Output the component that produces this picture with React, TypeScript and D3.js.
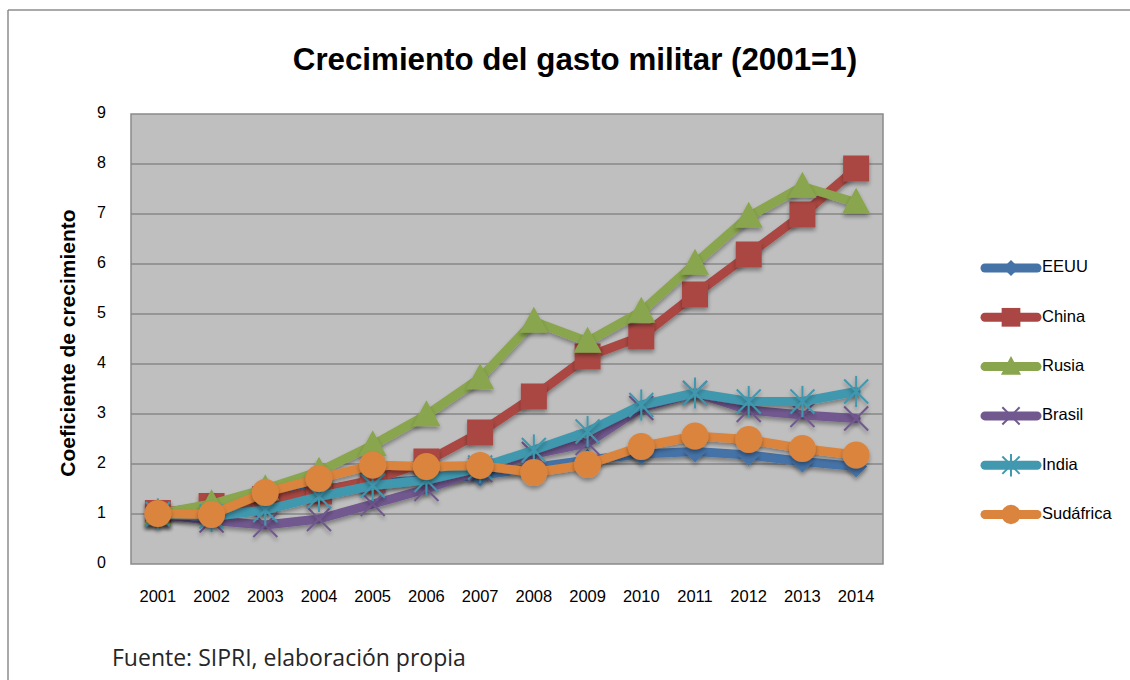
import React from "react";
import * as d3 from "d3";

const years = ["2001","2002","2003","2004","2005","2006","2007","2008","2009","2010","2011","2012","2013","2014"];
const yTicks = [0,1,2,3,4,5,6,7,8,9];

const eeuu = [1.0, 1.14, 1.33, 1.49, 1.61, 1.69, 1.77, 1.93, 2.08, 2.2, 2.25, 2.18, 2.05, 1.95];
const china = [1.02, 1.16, 1.3, 1.45, 1.68, 2.05, 2.63, 3.35, 4.15, 4.55, 5.39, 6.19, 6.99, 7.91];
const rusia = [1.0, 1.2, 1.5, 1.85, 2.38, 2.98, 3.72, 4.85, 4.45, 5.05, 6.01, 6.95, 7.55, 7.23];
const brasil = [1.0, 0.87, 0.78, 0.9, 1.2, 1.5, 1.88, 2.2, 2.42, 3.12, 3.42, 3.08, 2.98, 2.91];
const india = [1.0, 0.95, 1.08, 1.35, 1.57, 1.68, 1.93, 2.28, 2.65, 3.18, 3.42, 3.25, 3.25, 3.45];
const sudafrica = [1.01, 0.99, 1.43, 1.71, 1.98, 1.95, 1.97, 1.83, 1.99, 2.35, 2.56, 2.49, 2.31, 2.18];

const seriesNames = ["EEUU","China","Rusia","Brasil","India","Sudáfrica"];
const seriesValues = [eeuu, china, rusia, brasil, india, sudafrica];
const seriesColors = ["#4572A7","#AA4643","#89A54E","#71588F","#4198AF","#DB843D"];
const seriesMarkers = ["diamond","square","triangle","x","star","circle"];

const W = 1130, H = 680;
const plot = { left: 131, right: 883, top: 114, bottom: 564 };
const FONT = "Liberation Sans, Arial, sans-serif";

function Marker({ kind, color, x, y, scale = 1 }: { kind: string; color: string; x: number; y: number; scale?: number }) {
  const s = scale;
  if (kind === "diamond") {
    const r = 11 * s;
    return <path d={`M${x},${y - r}L${x + r},${y}L${x},${y + r}L${x - r},${y}Z`} fill={color} />;
  }
  if (kind === "square") {
    const r = 13 * s;
    return <rect x={x - r} y={y - r} width={2 * r} height={2 * r} fill={color} />;
  }
  if (kind === "triangle") {
    const r = 14 * s;
    return <path d={`M${x},${y - r * 1.05}L${x + r},${y + r * 0.8}L${x - r},${y + r * 0.8}Z`} fill={color} />;
  }
  if (kind === "x") {
    const r = 12 * s;
    return (
      <g stroke={color} strokeWidth={2}>
        <line x1={x - r} y1={y - r} x2={x + r} y2={y + r} />
        <line x1={x - r} y1={y + r} x2={x + r} y2={y - r} />
      </g>
    );
  }
  if (kind === "star") {
    const r = 12 * s;
    return (
      <g stroke={color} strokeWidth={2}>
        <line x1={x - r} y1={y - r} x2={x + r} y2={y + r} />
        <line x1={x - r} y1={y + r} x2={x + r} y2={y - r} />
        <line x1={x} y1={y - r * 1.3} x2={x} y2={y + r * 1.3} />
      </g>
    );
  }
  const r = 13.5 * s;
  return <circle cx={x} cy={y} r={r} fill={color} />;
}

export default function App() {
  const x = d3.scaleBand<string>().domain(years).range([plot.left, plot.right]);
  const y = d3.scaleLinear().domain([0, 9]).range([plot.bottom, plot.top]);
  const cx = (yr: string) => (x(yr) as number) + x.bandwidth() / 2;
  const line = d3.line<number>().x((_, i) => cx(years[i])).y((v) => y(v));

  const legendY0 = 268, legendStep = 49.3;

  return (
    <svg width={W} height={H} style={{ position: "absolute", left: 0, top: 0, display: "block", background: "#fff" }}>
      <defs>
        <filter id="sh" x="-50%" y="-50%" width="200%" height="200%">
          <feGaussianBlur in="SourceAlpha" stdDeviation="2" />
          <feOffset dx="0" dy="3" result="ob" />
          <feComponentTransfer><feFuncA type="linear" slope="0.35" /></feComponentTransfer>
          <feMerge><feMergeNode /><feMergeNode in="SourceGraphic" /></feMerge>
        </filter>
      </defs>
      {/* outer frame */}
      <line x1={8} y1={10} x2={W} y2={10} stroke="#8c8c8c" strokeWidth={1.5} />
      <line x1={8} y1={10} x2={8} y2={H} stroke="#8c8c8c" strokeWidth={1.5} />

      <text x={575} y={62} textAnchor="middle" dominantBaseline="middle" fontFamily={FONT} fontWeight="bold" fontSize={31.3} fill="#000">
        Crecimiento del gasto militar (2001=1)
      </text>

      {/* plot area */}
      <rect x={plot.left} y={plot.top} width={plot.right - plot.left} height={plot.bottom - plot.top} fill="#BFBFBF" stroke="#8a8a8a" strokeWidth={1.5} />
      {yTicks.map((t) => (
        <g key={t}>
          {t > 0 && t < 9 && <line x1={plot.left} x2={plot.right} y1={y(t)} y2={y(t)} stroke="#878787" strokeWidth={1.5} />}
          <text x={106} y={y(t)} textAnchor="end" dominantBaseline="middle" fontFamily={FONT} fontSize={16} fill="#000">{t}</text>
        </g>
      ))}
      {years.map((yr) => (
        <text key={yr} x={cx(yr)} y={598} textAnchor="middle" dominantBaseline="middle" fontFamily={FONT} fontSize={16.5} fill="#000">{yr}</text>
      ))}
      <text transform={`translate(69,343) rotate(-90)`} textAnchor="middle" dominantBaseline="middle" fontFamily={FONT} fontWeight="bold" fontSize={21} fill="#000">
        Coeficiente de crecimiento
      </text>

      {/* series */}
      {seriesValues.map((vals, si) => (
        <g key={seriesNames[si]}>
          <path d={line(vals) as string} fill="none" stroke={seriesColors[si]} strokeWidth={9} strokeLinejoin="round" strokeLinecap="round" filter="url(#sh)" />
          <g filter="url(#sh)">
            {vals.map((v, i) => (
              <Marker key={i} kind={seriesMarkers[si]} color={seriesColors[si]} x={cx(years[i])} y={y(v)} />
            ))}
          </g>
        </g>
      ))}

      {/* legend */}
      {seriesNames.map((n, i) => {
        const ly = legendY0 + i * legendStep;
        return (
          <g key={n}>
            <line x1={985} x2={1037} y1={ly} y2={ly} stroke={seriesColors[i]} strokeWidth={9} strokeLinecap="round" />
            <Marker kind={seriesMarkers[i]} color={seriesColors[i]} x={1011} y={ly} scale={0.72} />
            <text x={1042} y={ly} dominantBaseline="middle" fontFamily={FONT} fontSize={16.5} fill="#000">{n}</text>
          </g>
        );
      })}

      <text x={112} y={660} dominantBaseline="middle" fontFamily="Open Sans, Noto Sans, sans-serif" fontSize={23} fill="#262626">
        Fuente: SIPRI, elaboración propia
      </text>
    </svg>
  );
}
